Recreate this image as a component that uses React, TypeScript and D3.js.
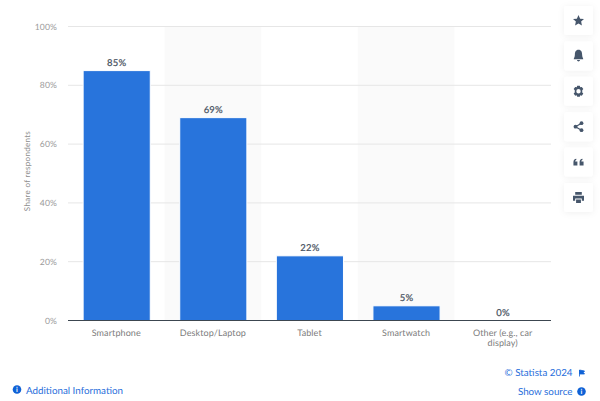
import { useEffect, useRef } from 'react';
import * as d3 from 'd3';

const categories = ['Smartphone', 'Desktop/Laptop', 'Tablet', 'Smartwatch', 'Other (e.g., car display)'];
const shares = [85, 69, 22, 5, 0];
const yTicks = [0, 20, 40, 60, 80, 100];

const FONT = 'Lato, sans-serif';
const BLUE = '#2874dc';
const LINK = '#2a6fdb';
const ICON = '#46566b';

// Statista side buttons, glyphs centred on 0,0
const iconPaths = [
  'M0,-5 L1.5,-1.7 L5,-1.3 L2.4,1 L3.1,4.6 L0,2.8 L-3.1,4.6 L-2.4,1 L-5,-1.3 L-1.5,-1.7 Z',
  'M0,-5.5 C2.6,-5.5 3.3,-3.2 3.3,-1 C3.3,1.2 4.3,2 4.3,3 L-4.3,3 C-4.3,2 -3.3,1.2 -3.3,-1 C-3.3,-3.2 -2.6,-5.5 0,-5.5 Z M-1.4,3.8 L1.4,3.8 C1.2,5.4 -1.2,5.4 -1.4,3.8 Z',
  'M-1.2,-5 L1.2,-5 L1.6,-3.6 L3,-4 L4.4,-2 L3.4,-1 L3.4,1 L4.4,2 L3,4 L1.6,3.6 L1.2,5 L-1.2,5 L-1.6,3.6 L-3,4 L-4.4,2 L-3.4,1 L-3.4,-1 L-4.4,-2 L-3,-4 L-1.6,-3.6 Z M0,-2 A2,2 0 1,0 0,2 A2,2 0 1,0 0,-2 Z',
  '',
  'M-4.6,3 L-4.6,0 C-4.6,-1.8 -3.6,-2.8 -2,-3 L-2,-1.8 C-2.8,-1.6 -3,-1.2 -3,-0.6 L-1,-0.6 L-1,3 Z M1,3 L1,0 C1,-1.8 2,-2.8 3.6,-3 L3.6,-1.8 C2.8,-1.6 2.6,-1.2 2.6,-0.6 L4.6,-0.6 L4.6,3 Z',
  'M-3,-5 L3,-5 L3,-2.4 L-3,-2.4 Z M-5,-1.6 L5,-1.6 L5,3 L3,3 L3,1 L-3,1 L-3,3 L-5,3 Z M-2.2,1.8 L2.2,1.8 L2.2,5 L-2.2,5 Z',
];

function App() {
  const svgRef = useRef<SVGSVGElement>(null);

  useEffect(() => {
    const svg = d3.select(svgRef.current);
    svg.selectAll('*').remove();

    const x = d3.scaleBand().domain(categories).range([68.4, 551.4]).paddingInner(0.305).paddingOuter(0.1525);
    const band = d3.scaleBand().domain(categories).range([68, 551]);
    const y = d3.scaleLinear().domain([0, 100]).range([320.5, 26.5]);

    const defs = svg.append('defs');
    const shadow = defs.append('filter').attr('id', 'btn').attr('x', '-40%').attr('y', '-40%').attr('width', '180%').attr('height', '180%');
    shadow.append('feDropShadow').attr('dx', 0).attr('dy', 1).attr('stdDeviation', 3).attr('flood-color', '#000').attr('flood-opacity', 0.06);

    // alternating background stripes
    svg.append('g').selectAll('rect')
      .data(categories.filter((_, i) => i % 2 === 1))
      .enter()
      .append('rect')
      .attr('x', (d) => band(d)!)
      .attr('y', y(100))
      .attr('width', band.bandwidth())
      .attr('height', y(0) - y(100))
      .attr('fill', '#fafafa');

    // grid
    svg.append('g').selectAll('line')
      .data(yTicks.filter((t) => t > 0))
      .enter()
      .append('line')
      .attr('x1', 68)
      .attr('x2', 551)
      .attr('y1', (d) => y(d))
      .attr('y2', (d) => y(d))
      .attr('stroke', '#e6e6e6')
      .attr('stroke-width', 1);

    svg.append('g').selectAll('text')
      .data(yTicks)
      .enter()
      .append('text')
      .attr('x', 57)
      .attr('y', (d) => y(d))
      .attr('dy', '.35em')
      .attr('text-anchor', 'end')
      .attr('font-family', FONT)
      .attr('font-size', '8.6px')
      .attr('letter-spacing', '0.1px')
      .attr('fill', '#9b9b9b')
      .text((d) => `${d}%`);

    svg.append('text')
      .attr('transform', `translate(29.5, ${y(50) - 2.5}) rotate(-90)`)
      .attr('text-anchor', 'middle')
      .attr('font-family', FONT)
      .attr('font-size', '8px')
      .attr('letter-spacing', '0.3px')
      .attr('fill', '#8e8e8e')
      .text('Share of respondents');

    // bars
    svg.append('g').selectAll('rect')
      .data(shares)
      .enter()
      .append('rect')
      .attr('x', (d, i) => x(categories[i])!)
      .attr('y', (d) => y(d))
      .attr('width', x.bandwidth())
      .attr('height', (d) => y(0) - y(d))
      .attr('fill', BLUE)
      .attr('stroke', '#fff')
      .attr('stroke-width', 1);

    svg.append('g').selectAll('text')
      .data(shares)
      .enter()
      .append('text')
      .attr('x', (d, i) => x(categories[i])! + x.bandwidth() / 2)
      .attr('y', (d) => y(d) - 4.5)
      .attr('text-anchor', 'middle')
      .attr('font-family', FONT)
      .attr('font-size', '9.5px')
      .attr('font-weight', 500)
      .attr('letter-spacing', '0.2px')
      .attr('stroke', '#4a5463')
      .attr('stroke-width', 0.15)
      .attr('fill', '#4a5463')
      .text((d) => `${d}%`);

    // baseline
    svg.append('line')
      .attr('x1', 68)
      .attr('x2', 551)
      .attr('y1', y(0))
      .attr('y2', y(0))
      .attr('stroke', '#3c4650')
      .attr('stroke-width', 1);

    // category labels, the last one wraps
    const labelLines = categories.flatMap((c) =>
      (c.startsWith('Other') ? ['Other (e.g., car', 'display)'] : [c]).map((text, row) => ({ c, text, row }))
    );
    svg.append('g').selectAll('text')
      .data(labelLines)
      .enter()
      .append('text')
      .attr('x', (d) => band(d.c)! + band.bandwidth() / 2)
      .attr('y', (d) => 336 + d.row * 9.5)
      .attr('text-anchor', 'middle')
      .attr('font-family', FONT)
      .attr('font-size', '9px')
      .attr('letter-spacing', '0.1px')
      .attr('fill', '#7c7c7c')
      .text((d) => d.text);

    // side buttons
    const buttons = svg.append('g').selectAll('g')
      .data(iconPaths)
      .enter()
      .append('g')
      .attr('transform', (d, i) => `translate(578.5, ${20.5 + i * 35.4})`);
    buttons.append('rect')
      .attr('x', -14.5)
      .attr('y', -14.5)
      .attr('width', 29)
      .attr('height', 29)
      .attr('rx', 3)
      .attr('fill', '#fff')
      .attr('filter', 'url(#btn)');
    buttons.append('path')
      .attr('d', (d) => d)
      .attr('transform', 'scale(1.1)')
      .attr('fill', ICON)
      .attr('fill-rule', 'evenodd');

    // share glyph
    const share = buttons.filter((d, i) => i === 3);
    share.append('path')
      .attr('d', 'M3,-3.5 L-3,0 L3,3.5')
      .attr('fill', 'none')
      .attr('stroke', ICON)
      .attr('stroke-width', 1.2);
    share.selectAll('circle')
      .data([[3, -3.5], [-3, 0], [3, 3.5]])
      .enter()
      .append('circle')
      .attr('cx', (d) => d[0])
      .attr('cy', (d) => d[1])
      .attr('r', 1.9)
      .attr('fill', ICON);

    // footer
    const infoIcon = (cx: number, cy: number) => {
      svg.append('circle').attr('cx', cx).attr('cy', cy).attr('r', 4.3).attr('fill', '#0f62d6');
      svg.append('text')
        .attr('x', cx)
        .attr('y', cy + 2.6)
        .attr('text-anchor', 'middle')
        .attr('font-family', FONT)
        .attr('font-size', '7px')
        .attr('font-weight', 700)
        .attr('fill', '#fff')
        .text('i');
    };
    const link = (tx: number, ty: number, anchor: string, label: string) => {
      svg.append('text')
        .attr('x', tx)
        .attr('y', ty)
        .attr('text-anchor', anchor)
        .attr('font-family', FONT)
        .attr('font-size', '9.8px')
        .attr('fill', LINK)
        .text(label);
    };
    infoIcon(17, 389.5);
    link(26, 393.5, 'start', 'Additional Information');
    link(572.5, 376, 'end', '© Statista 2024');
    link(572.5, 395, 'end', 'Show source');
    infoIcon(581.5, 391.5);
    svg.append('path')
      .attr('d', 'M579.5,370 L579.5,376.5 M579.5,370 L584.5,371 L583.4,372.5 L584.5,374 L579.5,374 Z')
      .attr('fill', '#0f62d6')
      .attr('stroke', '#0f62d6')
      .attr('stroke-width', 0.8);
  }, []);

  return (
    <svg
      ref={svgRef}
      width={600}
      height={401}
      style={{ position: 'fixed', left: 0, top: 0, background: '#fff', textRendering: 'geometricPrecision' }}
    ></svg>
  );
}

export default App;
